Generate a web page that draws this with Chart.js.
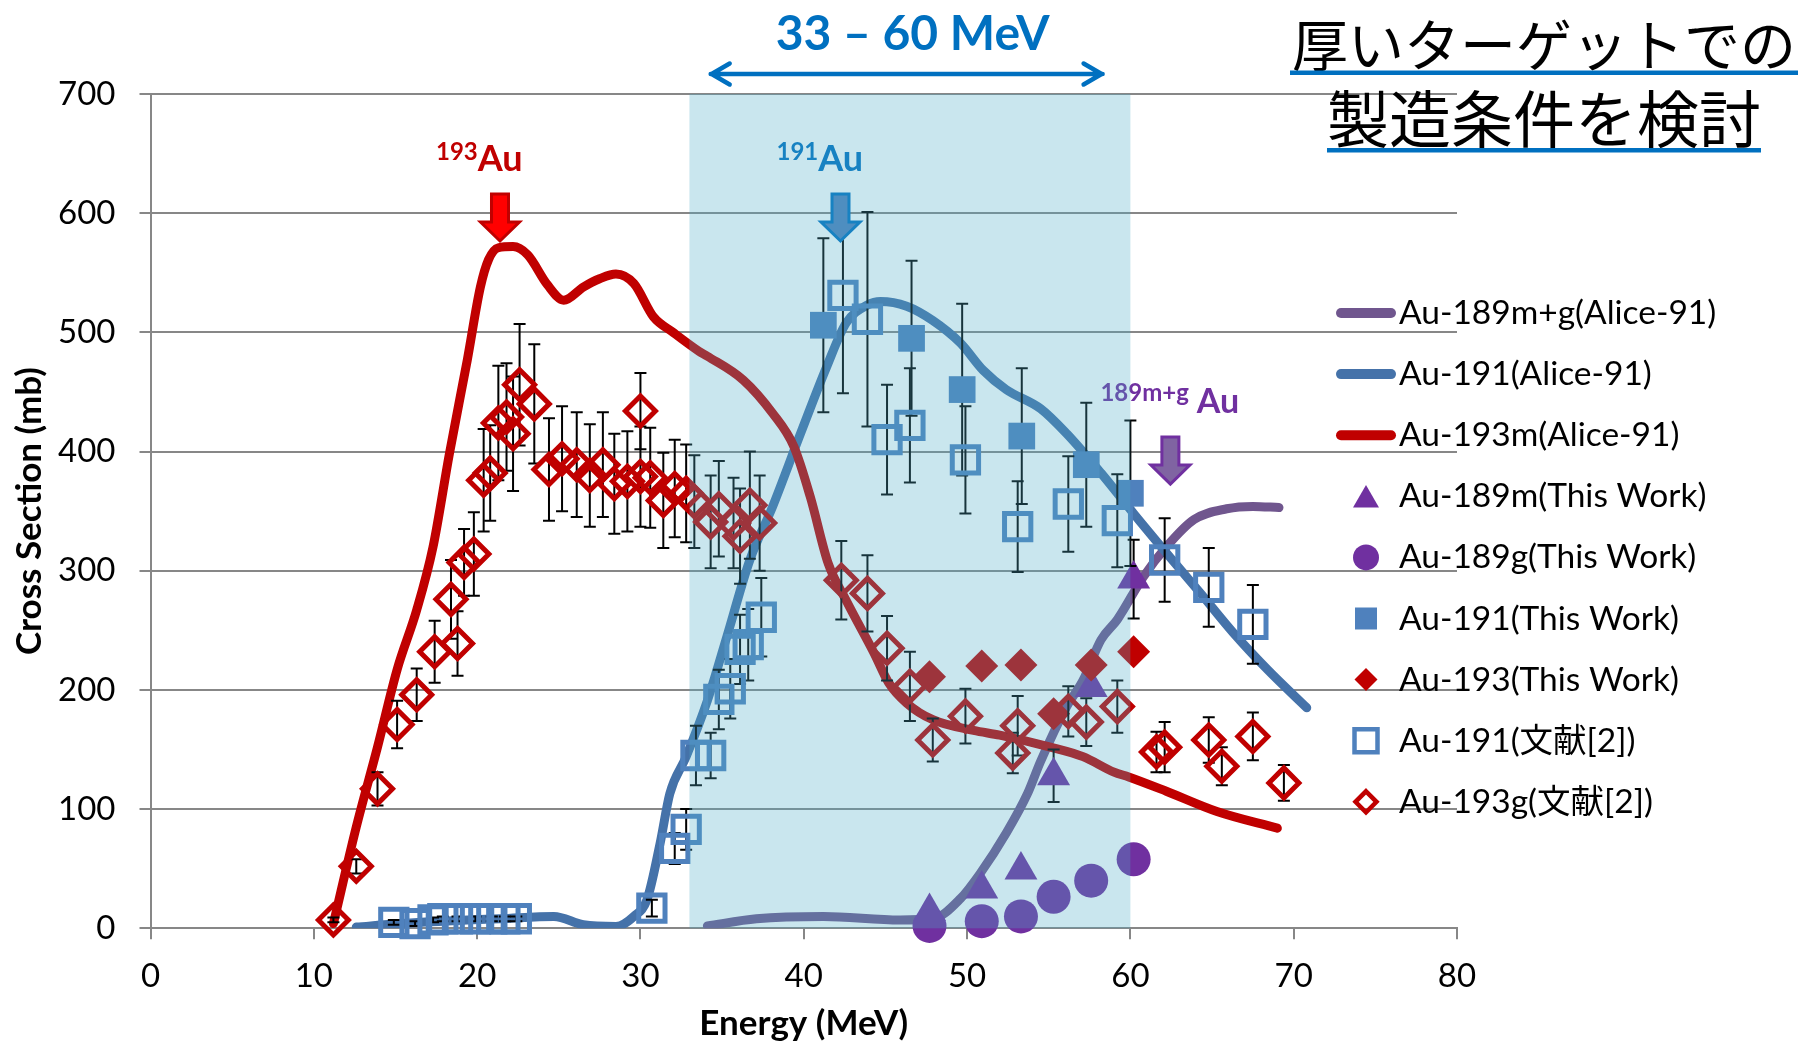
<!DOCTYPE html>
<html lang="ja">
<head>
<meta charset="utf-8">
<title>Au 励起関数 (Alice-91 / This Work / 文献[2])</title>
<script src="https://cdn.jsdelivr.net/npm/chart.js@4.4.1/dist/chart.umd.min.js"></script>
<style>
  html, body { margin: 0; padding: 0; background: #ffffff; }
  #wrap { width: 1799px; height: 1041px; position: relative; }
  canvas { display: block; }
</style>
</head>
<body>
<div id="wrap"><canvas id="chart" width="1799" height="1041"></canvas></div>
<script>
// ---------------- axis ticks ----------------
const xTicks = [0, 10, 20, 30, 40, 50, 60, 70, 80];
const yTicks = [0, 100, 200, 300, 400, 500, 600, 700];

// ---------------- ALICE-91 calculations (MeV, mb) ----------------
const au189CalcE = [34.1, 37.1, 41.2, 45.9, 47.9, 49.6, 50.8, 52.4, 53.7, 54.5, 56.1, 57.1, 58.2, 59.2, 60.8, 62.2, 63.9, 65.9, 67.5, 69.1];
const au189CalcV = [2, 8, 10, 7, 8, 25, 46, 80, 113, 140, 186, 208, 242, 259, 295, 320, 343, 352, 354, 353];

const au191CalcE = [12.6, 15.3, 19.4, 21.4, 24.7, 26.5, 28.5, 29.6, 30.4, 31.2, 31.8, 32.8, 34.1, 35.3, 36.7, 38.1, 39.8, 41.4, 42.6, 43.9, 44.7, 46.3, 47.9, 49.6, 51.0, 52.4, 54.5, 56.1, 58.2, 60.2, 62.2, 64.3, 66.3, 68.4, 70.8];
const au191CalcV = [1, 4, 7, 8, 10, 3, 1.5, 10, 24, 71, 113, 144, 191, 245, 309, 354, 415, 471, 508, 523, 526, 522, 510, 491, 468, 452, 436, 415, 382, 348, 315, 281, 248, 217, 185];

const au193CalcE = [11.2, 12.6, 13.9, 15.1, 16.3, 17.3, 18.3, 19.4, 20.2, 20.7, 21.3, 22.2, 23.1, 24.3, 25.3, 26.5, 27.5, 28.5, 29.6, 30.8, 32.0, 33.6, 34.1, 36.3, 38.1, 39.4, 40.4, 41.5, 42.6, 44.3, 45.2, 46.3, 47.9, 50.4, 52.0, 55.1, 57.1, 59.0, 59.9, 62.2, 65.3, 69.0];
const au193CalcV = [4, 85, 152, 217, 267, 320, 398, 477, 538, 561, 571, 572, 565, 540, 527, 538, 545, 549, 541, 513, 500, 484, 480, 460, 432, 404, 362, 306, 275, 231, 206, 189, 175, 166, 162, 152, 144, 131, 127, 115, 98, 84];

// ---------------- This Work (MeV, mb, ±mb) ----------------
const au189mE = [47.7, 50.9, 53.3, 55.3, 57.6, 60.2];
const au189mV = [14, 33, 49, 128, 202, 293];
const au189mErr = [0, 0, 4, 22, 0, 33];

const au189gE = [47.7, 50.9, 53.3, 55.3, 57.6, 60.2];
const au189gV = [2, 6, 10, 26.5, 40, 58];

const au191E = [41.2, 46.6, 49.7, 53.35, 57.3, 60.0];
const au191V = [506, 495, 452, 413, 389, 365];
const au191Err = [73, 65, 72, 57, 52, 61];

const au193E = [47.7, 50.9, 53.3, 55.3, 57.6, 60.2];
const au193V = [211, 220, 221, 180, 221, 232];

// ---------------- 文献[2] (MeV, mb, ±mb) ----------------
const au191RefE = [14.9, 16.2, 17.3, 17.9, 18.8, 19.9, 20.9, 21.7, 22.4, 30.7, 32.1, 32.8, 33.4, 34.3, 34.8, 35.5, 36.1, 36.6, 37.4, 42.4, 43.9, 45.1, 46.5, 49.9, 53.1, 56.2, 59.2, 62.1, 64.8, 67.5];
const au191RefV = [5, 4, 7, 8, 8, 8, 8, 8, 8, 17, 67, 83, 145, 145, 192, 201, 234, 238, 261, 531, 511, 410, 422, 393, 337, 356, 342, 309, 286, 255];
const au191RefErr = [2, 2, 2, 2, 2, 2, 2, 2, 2, 7, 13, 17, 25, 19, 25, 25, 29, 30, 33, 82, 90, 46, 48, 45, 38, 40, 39, 35, 33, 33];

const au193gRefE = [11.2, 12.6, 13.9, 15.1, 16.3, 17.4, 18.4, 18.8, 19.2, 19.8, 20.4, 20.8, 21.3, 21.8, 22.2, 22.6, 23.5, 24.4, 25.2, 26.1, 26.9, 27.7, 28.4, 29.2, 30.0, 30.0, 30.6, 31.4, 32.1, 32.8, 33.3, 34.3, 34.8, 35.7, 36.1, 36.7, 37.3, 42.3, 43.9, 45.1, 46.5, 47.9, 49.9, 52.8, 53.1, 56.2, 57.3, 59.2, 61.6, 62.1, 64.8, 65.6, 67.5, 69.4];
const au193gRefV = [7, 52, 117, 171, 196, 232, 276, 239, 307, 314, 376, 382, 424, 429, 415, 456, 440, 385, 394, 389, 380, 389, 373, 375, 379, 434, 378, 359, 369, 365, 358, 341, 352, 340, 329, 355, 340, 292, 281, 235, 203, 158, 178, 147, 170, 182, 173, 186, 148, 152, 158, 136, 161, 122];
const au193gRefErr = [2, 6, 14, 20, 22, 26, 33, 27, 28, 35, 43, 40, 48, 45, 48, 51, 50, 43, 44, 44, 43, 44, 42, 42, 42, 32, 42, 40, 41, 41, 39, 39, 40, 38, 40, 45, 40, 33, 32, 27, 29, 18, 23, 17, 25, 21, 20, 22, 17, 21, 19, 16, 20, 15];

// ---------------- styling ----------------
const RED = '#C00000';
const PURPLE = '#7030A0';
const BLUE = '#4F81BD';
const PURPLE_LINE = '#70568E';
const BLUE_LINE = '#4572A9';
const GRID = '#878787';
const TEXT = '#000000';
const HILITE = '#0070C0';
const LATIN = 'Lato, "Noto Sans CJK JP", sans-serif';
const CJK = '"Noto Sans CJK JP", "Noto Sans CJK SC", sans-serif';

const pts = (xs, ys) => xs.map((x, i) => ({ x: x, y: ys[i] }));

function curve(label, xs, ys, color, order) {
  return {
    label, data: pts(xs, ys), showLine: true, order,
    borderColor: color, backgroundColor: color, borderWidth: 9,
    pointRadius: 0, pointHoverRadius: 0,
    tension: 0.4, cubicInterpolationMode: 'monotone',
    borderCapStyle: 'round', borderJoinStyle: 'round',
    legendMark: { kind: 'line', color: color }
  };
}
function marks(label, xs, ys, style, radius, fill, stroke, borderWidth, order, errs, legendMark) {
  return {
    label, data: pts(xs, ys), showLine: false, order, clip: false,
    pointStyle: style, pointRadius: radius, pointHoverRadius: radius,
    backgroundColor: fill, borderColor: stroke, borderWidth: borderWidth,
    errorBars: errs || null, legendMark
  };
}

const NONE = 'rgba(0,0,0,0)';
const datasets = [
  curve('Au-189m+g(Alice-91)', au189CalcE, au189CalcV, PURPLE_LINE, 9),
  curve('Au-191(Alice-91)', au191CalcE, au191CalcV, BLUE_LINE, 8),
  curve('Au-193m(Alice-91)', au193CalcE, au193CalcV, RED, 7),
  marks('Au-189m(This Work)', au189mE, au189mV, 'triangle', 19, PURPLE, PURPLE, 0, 6, au189mErr,
        { kind: 'triangle', r: 15, fill: PURPLE }),
  marks('Au-189g(This Work)', au189gE, au189gV, 'circle', 17, PURPLE, PURPLE, 0, 5, null,
        { kind: 'circle', r: 13, fill: PURPLE }),
  marks('Au-191(This Work)', au191E, au191V, 'rect', 18.9, BLUE, BLUE, 0, 4, au191Err,
        { kind: 'rect', r: 11, fill: BLUE }),
  marks('Au-193(This Work)', au193E, au193V, 'rectRot', 16.5, RED, RED, 0, 3, null,
        { kind: 'diamond', r: 11.5, fill: RED }),
  marks('Au-191(文献[2])', au191RefE, au191RefV, 'rect', 18.6, NONE, BLUE, 5, 2, au191RefErr,
        { kind: 'rect', r: 11.5, stroke: BLUE, lw: 4.5 }),
  marks('Au-193g(文献[2])', au193gRefE, au193gRefV, 'rectRot', 15, NONE, RED, 5, 1, au193gRefErr,
        { kind: 'diamond', r: 10.5, stroke: RED, lw: 4.5 })
];

// ---------------- plugins ----------------
// vertical error bars, drawn just before each dataset so markers sit on top
const errorBarPlugin = {
  id: 'errorBars',
  beforeDatasetDraw(chart, args) {
    const ds = chart.data.datasets[args.index];
    if (!ds.errorBars) return;
    const { ctx } = chart;
    const xs = chart.scales.x, ys = chart.scales.y;
    ctx.save();
    ctx.strokeStyle = '#000000';
    ctx.lineWidth = 2;
    ds.data.forEach((p, i) => {
      const e = ds.errorBars[i];
      if (!e) return;
      const px = xs.getPixelForValue(p.x);
      const top = ys.getPixelForValue(p.y + e);
      const bot = ys.getPixelForValue(p.y - e);
      ctx.beginPath();
      ctx.moveTo(px, top); ctx.lineTo(px, bot);
      ctx.moveTo(px - 6, top); ctx.lineTo(px + 6, top);
      ctx.moveTo(px - 6, bot); ctx.lineTo(px + 6, bot);
      ctx.stroke();
    });
    ctx.restore();
  }
};

// isotope arrows + labels, then the translucent 33–60 MeV window
const peakMarkers = [
  { e: 21.4, tip: 575, sup: '193', main: 'Au', color: RED, fill: '#FF0000', stroke: RED,
    supSize: 24, mainSize: 36, dx: -64, supDy: -81, mainDy: -70, gap: 0 },
  { e: 42.25, tip: 575, sup: '191', main: 'Au', color: HILITE, fill: BLUE, stroke: HILITE,
    supSize: 24, mainSize: 36, dx: -64, supDy: -81, mainDy: -70, gap: 0 },
  { e: 62.45, tip: 371, sup: '189m+g', main: 'Au', color: PURPLE, fill: '#8064A2', stroke: PURPLE,
    supSize: 24, mainSize: 34, dx: -70, supDy: -83, mainDy: -71, gap: 8 }
];
const windowRange = { from: 33, to: 60 };

function downArrow(ctx, x, tipY, fill, stroke) {
  const shaftHalf = 8.5, headHalf = 19.5, headLen = 19, total = 47;
  ctx.beginPath();
  ctx.moveTo(x - shaftHalf, tipY - total);
  ctx.lineTo(x + shaftHalf, tipY - total);
  ctx.lineTo(x + shaftHalf, tipY - headLen);
  ctx.lineTo(x + headHalf, tipY - headLen);
  ctx.lineTo(x, tipY);
  ctx.lineTo(x - headHalf, tipY - headLen);
  ctx.lineTo(x - shaftHalf, tipY - headLen);
  ctx.closePath();
  ctx.fillStyle = fill;
  ctx.fill();
  ctx.lineWidth = 3;
  ctx.lineJoin = 'miter';
  ctx.strokeStyle = stroke;
  ctx.stroke();
}

const annotationPlugin = {
  id: 'annotations',
  afterDatasetsDraw(chart) {
    const { ctx, chartArea } = chart;
    const xs = chart.scales.x, ys = chart.scales.y;
    ctx.save();
    peakMarkers.forEach(m => {
      const x = xs.getPixelForValue(m.e);
      const tipY = ys.getPixelForValue(m.tip) - 2;
      downArrow(ctx, x, tipY, m.fill, m.stroke);
      const left = x + m.dx;
      ctx.fillStyle = m.color;
      ctx.textAlign = 'left';
      ctx.textBaseline = 'alphabetic';
      ctx.font = 'bold ' + m.supSize + 'px ' + LATIN;
      ctx.fillText(m.sup, left, tipY + m.supDy);
      const w = ctx.measureText(m.sup).width;
      ctx.font = 'bold ' + m.mainSize + 'px ' + LATIN;
      ctx.fillText(m.main, left + w + m.gap, tipY + m.mainDy);
    });
    // translucent energy window over the plotted data
    const x0 = xs.getPixelForValue(windowRange.from);
    const x1 = xs.getPixelForValue(windowRange.to);
    ctx.fillStyle = 'rgba(75,172,198,0.30)';
    ctx.fillRect(x0, chartArea.top, x1 - x0, chartArea.bottom - chartArea.top);
    ctx.restore();
  }
};

function legendMarker(ctx, m, cx, cy) {
  ctx.save();
  if (m.kind === 'line') {
    ctx.strokeStyle = m.color;
    ctx.lineWidth = 10;
    ctx.lineCap = 'round';
    ctx.beginPath();
    ctx.moveTo(cx - 25, cy); ctx.lineTo(cx + 25, cy);
    ctx.stroke();
    ctx.restore();
    return;
  }
  ctx.beginPath();
  if (m.kind === 'triangle') {
    const h = m.r * 1.5, w = m.r * 1.732;
    ctx.moveTo(cx, cy - h / 2);
    ctx.lineTo(cx + w / 2, cy + h / 2);
    ctx.lineTo(cx - w / 2, cy + h / 2);
    ctx.closePath();
  } else if (m.kind === 'circle') {
    ctx.arc(cx, cy, m.r, 0, Math.PI * 2);
  } else if (m.kind === 'rect') {
    ctx.rect(cx - m.r, cy - m.r, m.r * 2, m.r * 2);
  } else if (m.kind === 'diamond') {
    ctx.moveTo(cx, cy - m.r); ctx.lineTo(cx + m.r, cy);
    ctx.lineTo(cx, cy + m.r); ctx.lineTo(cx - m.r, cy);
    ctx.closePath();
  }
  if (m.fill) { ctx.fillStyle = m.fill; ctx.fill(); }
  if (m.stroke) { ctx.strokeStyle = m.stroke; ctx.lineWidth = m.lw; ctx.lineJoin = 'miter'; ctx.stroke(); }
  ctx.restore();
}

const legendPlugin = {
  id: 'sideLegend',
  afterDraw(chart) {
    const { ctx } = chart;
    const top = 313, step = 61.1, markX = 1366, textX = 1399;
    ctx.save();
    ctx.font = '33.5px ' + LATIN;
    ctx.fillStyle = TEXT;
    ctx.textAlign = 'left';
    ctx.textBaseline = 'alphabetic';
    chart.data.datasets.forEach((ds, i) => {
      const cy = top + i * step;
      legendMarker(ctx, ds.legendMark, markX, cy);
      ctx.fillStyle = TEXT;
      ctx.fillText(ds.label, textX, cy + 11);
    });
    ctx.restore();
  }
};

const headerPlugin = {
  id: 'header',
  afterDraw(chart) {
    const { ctx } = chart;
    const xs = chart.scales.x;
    ctx.save();
    // energy window caption with double-headed arrow
    const ax0 = xs.getPixelForValue(34.3), ax1 = xs.getPixelForValue(58.3), ay = 74;
    ctx.strokeStyle = HILITE;
    ctx.lineWidth = 4.5;
    ctx.lineCap = 'round';
    ctx.lineJoin = 'round';
    ctx.beginPath();
    ctx.moveTo(ax0, ay); ctx.lineTo(ax1, ay);
    ctx.moveTo(ax0 + 19, ay - 10.5); ctx.lineTo(ax0 + 1, ay); ctx.lineTo(ax0 + 19, ay + 10.5);
    ctx.moveTo(ax1 - 19, ay - 10.5); ctx.lineTo(ax1 - 1, ay); ctx.lineTo(ax1 - 19, ay + 10.5);
    ctx.stroke();
    ctx.fillStyle = HILITE;
    ctx.font = 'bold 48px ' + LATIN;
    ctx.textAlign = 'center';
    ctx.textBaseline = 'alphabetic';
    ctx.fillText('33 – 60 MeV', (ax0 + ax1) / 2 + 6, 50);

    // Japanese heading with underlines
    const cx = 1544;
    ctx.fillStyle = TEXT;
    ctx.font = '56px ' + CJK;
    ctx.fillText('厚いターゲットでの', cx, 66);
    const w1 = ctx.measureText('厚いターゲットでの').width;
    ctx.font = '62px ' + CJK;
    ctx.fillText('製造条件を検討', cx, 143);
    const w2 = ctx.measureText('製造条件を検討').width;
    ctx.fillStyle = HILITE;
    ctx.fillRect(cx - w1 / 2 - 2, 70.5, w1 + 4, 4.5);
    ctx.fillRect(cx - w2 / 2, 148, w2, 4.5);
    ctx.restore();
  }
};

// ---------------- chart ----------------
function build() {
  new Chart(document.getElementById('chart'), {
    type: 'scatter',
    data: { datasets },
    options: {
      responsive: false,
      animation: false,
      devicePixelRatio: 1,
      events: [],
      layout: { padding: { left: 0, top: 94, right: 342, bottom: 0 } },
      plugins: { legend: { display: false }, tooltip: { enabled: false } },
      scales: {
        x: {
          type: 'linear', min: 0, max: 80,
          afterBuildTicks: s => { s.ticks = xTicks.map(v => ({ value: v })); },
          afterFit: s => { s.height = 112.7; },
          grid: { drawOnChartArea: false, drawTicks: true, tickLength: 11, color: GRID, lineWidth: 2 },
          border: { display: true, color: GRID, width: 2 },
          ticks: { color: TEXT, padding: 17, maxRotation: 0, font: { family: LATIN, size: 33 } },
          title: { display: true, text: 'Energy (MeV)', color: TEXT,
                   font: { family: LATIN, size: 35, weight: 'bold', lineHeight: 1 },
                   padding: { top: 0, bottom: 0 } }
        },
        y: {
          type: 'linear', min: 0, max: 700,
          afterBuildTicks: s => { s.ticks = yTicks.map(v => ({ value: v })); },
          afterFit: s => { s.width = 150.5; },
          grid: { drawOnChartArea: true, drawTicks: true, tickLength: 11, color: GRID, lineWidth: 2 },
          border: { display: true, color: GRID, width: 2 },
          ticks: { color: TEXT, padding: 24, font: { family: LATIN, size: 33 } },
          title: { display: true, text: 'Cross Section (mb)', color: TEXT,
                   font: { family: LATIN, size: 35, weight: 'bold', lineHeight: 1 },
                   padding: { top: 12, bottom: 0 } }
        }
      }
    },
    plugins: [errorBarPlugin, annotationPlugin, legendPlugin, headerPlugin]
  });
}

const fontLoads = [
  '33px Lato', 'bold 33px Lato', '56px "Noto Sans CJK JP"'
].map(f => document.fonts.load(f).catch(() => null));
Promise.all(fontLoads).then(build, build);
</script>
</body>
</html>
